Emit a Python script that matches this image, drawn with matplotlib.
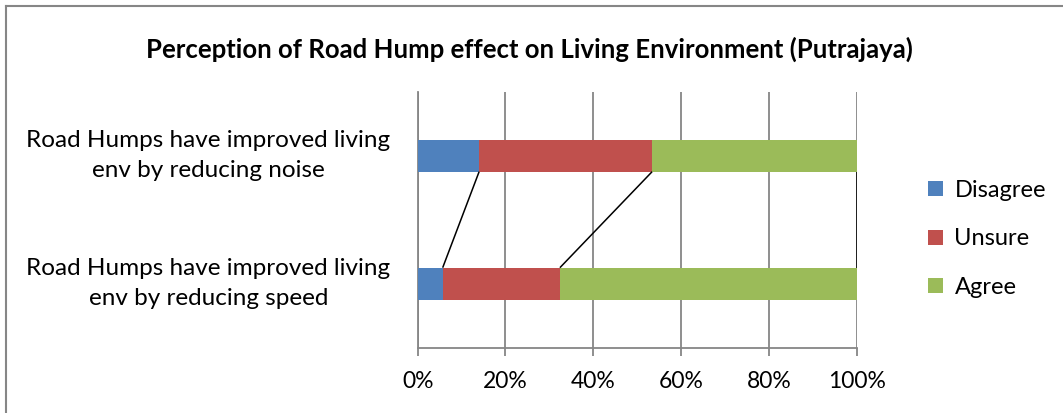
import matplotlib
matplotlib.use('Agg')
from matplotlib import pyplot as plt
from matplotlib.lines import Line2D
from matplotlib.ticker import MultipleLocator, FuncFormatter

plt.rcParams['font.family'] = ['Lato', 'DejaVu Sans']

# data (percent of respondents), bottom category first
categories = ['Road Humps have improved living\nenv by reducing speed',
              'Road Humps have improved living\nenv by reducing noise']
disagree = [5.7, 14.0]
unsure = [26.7, 39.4]
agree = [67.6, 46.6]
series = ['Disagree', 'Unsure', 'Agree']
colors = ['#4F81BD', '#C0504D', '#9BBB59']

fig = plt.figure(figsize=(10.63, 4.13), dpi=100)
ax = fig.add_axes([0.3929, 0.1581, 0.4130, 0.6199])

ypos = list(range(len(categories)))
barh = 0.25
left = [0, 0]
ends = []
handles = []
for vals, name, col in zip([disagree, unsure, agree], series, colors):
    b = ax.barh(ypos, vals, height=barh, left=left, color=col, label=name, zorder=3)
    handles.append(b)
    left = [l + v for l, v in zip(left, vals)]
    ends.append(left)

# excel style series lines between the bars
for e in ends:
    ax.plot([e[0], e[1]], [ypos[0] + barh / 2, ypos[1] - barh / 2],
            color='black', lw=1.1, zorder=4, solid_capstyle='butt')

ax.set_xlim(0, 100)
ax.set_ylim(-0.5, 1.5)
ax.xaxis.set_major_locator(MultipleLocator(20))
ax.xaxis.set_major_formatter(FuncFormatter(lambda v, p: '%d%%' % v))
ax.grid(axis='x', color='#868686', lw=1.3, zorder=0)
ax.set_yticks([])
for s in ['top', 'right']:
    ax.spines[s].set_visible(False)
for s in ['left', 'bottom']:
    ax.spines[s].set_color('#868686')
    ax.spines[s].set_linewidth(1.3)
ax.tick_params(axis='x', length=6, width=1.3, color='#868686', labelsize=16.5, pad=11)

for y, lab in zip(ypos, categories):
    fig.text(208.5 / 1063, ax.transData.transform((0, y))[1] / 413, lab,
             ha='center', va='center', fontsize=17.5, linespacing=1.5)

fig.text(0.498, 1 - 49 / 413, 'Perception of Road Hump effect on Living Environment (Putrajaya)',
         ha='center', va='center', fontsize=18.5, fontweight='bold')

ax.legend(handles=handles, loc='center left', bbox_to_anchor=(1.142, 0.425), frameon=False,
          fontsize=17, handlelength=0.6, handleheight=0.6, handletextpad=0.5,
          labelspacing=1.15, borderaxespad=0)

# chart area border (only left and top are visible in the crop)
fig.add_artist(Line2D([6 / 1063, 1], [1 - 6 / 413, 1 - 6 / 413], color='#868686', lw=1.5))
fig.add_artist(Line2D([6 / 1063, 6 / 1063], [0, 1 - 6 / 413], color='#868686', lw=1.5))

plt.savefig('out.png', dpi=100)
plt.close()
